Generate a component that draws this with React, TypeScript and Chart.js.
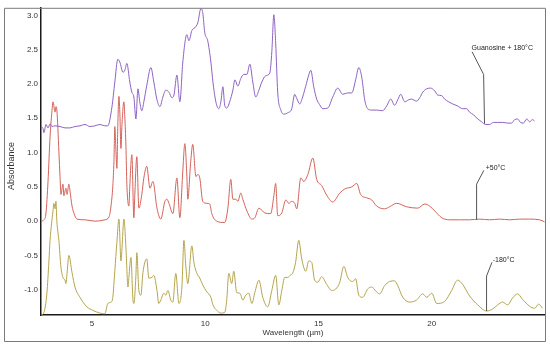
import React, { useEffect, useRef } from "react";
import { Chart, registerables } from "chart.js";

Chart.register(...registerables);

// ---- axis ticks ----
const xTicks = [5, 10, 15, 20];
const yTicks = [-1.0, -0.5, 0.0, 0.5, 1.0, 1.5, 2.0, 2.5, 3.0];

// ---- Guanosine +180°C (purple) ----
const purpleWl = [2.75, 2.84, 2.88, 2.97, 3.06, 3.15, 3.23, 3.37, 3.59, 3.81, 4.03, 4.25, 4.47, 4.69, 4.91, 5.13, 5.35, 5.57, 5.7, 5.88, 6.01, 6.14, 6.23, 6.37, 6.45, 6.54, 6.67, 6.76, 6.85, 6.94, 7.03, 7.11, 7.2, 7.29, 7.42, 7.6, 7.73, 7.87, 8.0, 8.13, 8.26, 8.4, 8.53, 8.62, 8.75, 8.88, 9.01, 9.19, 9.28, 9.41, 9.54, 9.67, 9.81, 9.89, 9.98, 10.11, 10.25, 10.34, 10.47, 10.6, 10.69, 10.78, 10.86, 10.95, 11.08, 11.22, 11.31, 11.44, 11.57, 11.7, 11.84, 11.97, 12.1, 12.23, 12.37, 12.5, 12.67, 12.85, 12.94, 13.03, 13.11, 13.2, 13.34, 13.47, 13.64, 13.82, 13.95, 14.04, 14.17, 14.3, 14.43, 14.57, 14.66, 14.79, 14.92, 15.05, 15.19, 15.41, 15.63, 15.85, 16.07, 16.29, 16.47, 16.64, 16.78, 16.91, 17.04, 17.17, 17.35, 17.57, 17.83, 18.01, 18.19, 18.36, 18.5, 18.63, 18.81, 18.98, 19.11, 19.33, 19.47, 19.6, 19.78, 19.95, 20.13, 20.26, 20.44, 20.57, 20.75, 20.92, 21.14, 21.36, 21.54, 21.67, 21.85, 22.03, 22.2, 22.38, 22.55, 22.73, 22.91, 23.13, 23.35, 23.52, 23.66, 23.79, 23.92, 24.05, 24.19, 24.32, 24.45, 24.54];
const purpleAbs = [1.38, 1.35, 1.29, 1.41, 1.36, 1.42, 1.38, 1.39, 1.38, 1.36, 1.36, 1.38, 1.39, 1.41, 1.38, 1.39, 1.41, 1.39, 1.39, 1.66, 2.03, 2.36, 2.32, 2.17, 2.2, 2.3, 2.03, 1.88, 1.81, 1.49, 1.93, 1.74, 1.61, 1.74, 1.98, 2.24, 2.03, 1.77, 1.67, 1.81, 1.91, 1.88, 1.8, 1.84, 2.13, 1.74, 2.32, 2.72, 2.63, 2.78, 2.82, 2.89, 3.1, 3.04, 2.75, 2.63, 2.32, 2.03, 1.74, 1.64, 1.74, 1.96, 1.69, 1.65, 1.74, 1.91, 2.06, 1.97, 2.08, 2.14, 2.14, 2.29, 2.03, 1.81, 1.91, 2.03, 2.12, 2.16, 2.47, 3.01, 2.6, 1.88, 1.62, 1.56, 1.58, 1.64, 1.85, 1.79, 1.71, 1.81, 1.96, 2.13, 2.2, 1.96, 1.78, 1.7, 1.64, 1.65, 1.81, 1.94, 1.85, 1.87, 1.87, 2.06, 2.24, 2.1, 1.77, 1.64, 1.62, 1.62, 1.61, 1.68, 1.78, 1.69, 1.77, 1.85, 1.74, 1.77, 1.78, 1.75, 1.8, 1.88, 1.93, 1.94, 1.9, 1.84, 1.83, 1.78, 1.74, 1.71, 1.68, 1.64, 1.64, 1.59, 1.55, 1.49, 1.45, 1.41, 1.41, 1.44, 1.44, 1.44, 1.43, 1.43, 1.48, 1.49, 1.44, 1.43, 1.49, 1.45, 1.48, 1.46];

// ---- +50°C (red) ----
const redWl = [2.75, 2.88, 2.97, 3.06, 3.15, 3.23, 3.28, 3.37, 3.41, 3.45, 3.54, 3.59, 3.63, 3.72, 3.76, 3.85, 3.9, 3.98, 4.03, 4.12, 4.21, 4.34, 4.69, 5.13, 5.57, 5.75, 5.84, 5.92, 5.97, 6.01, 6.06, 6.1, 6.14, 6.19, 6.23, 6.28, 6.32, 6.41, 6.45, 6.5, 6.54, 6.63, 6.67, 6.76, 6.85, 6.89, 6.98, 7.07, 7.2, 7.29, 7.42, 7.56, 7.69, 7.87, 8.04, 8.22, 8.31, 8.4, 8.57, 8.75, 8.88, 9.01, 9.1, 9.19, 9.23, 9.36, 9.45, 9.59, 9.67, 9.76, 9.89, 10.07, 10.2, 10.29, 10.51, 10.86, 11.0, 11.13, 11.22, 11.35, 11.44, 11.57, 11.66, 11.84, 12.06, 12.19, 12.37, 12.63, 12.89, 13.03, 13.11, 13.2, 13.38, 13.56, 13.69, 13.82, 13.95, 14.04, 14.22, 14.35, 14.53, 14.75, 14.92, 15.14, 15.36, 15.63, 15.94, 16.16, 16.47, 16.69, 16.86, 17.13, 17.35, 17.57, 17.92, 18.14, 18.45, 18.89, 19.38, 19.69, 19.91, 20.13, 20.44, 20.79, 21.23, 21.67, 22.11, 22.55, 22.99, 23.44, 23.88, 24.32, 24.76, 24.98];
const redAbs = [0.0, 0.02, 0.12, 0.58, 1.23, 1.59, 1.74, 1.59, 1.67, 1.62, 1.01, 0.65, 0.39, 0.54, 0.37, 0.48, 0.39, 0.54, 0.44, 0.22, 0.11, 0.03, 0.02, 0.0, 0.02, 0.06, 0.22, 0.51, 0.87, 1.38, 1.01, 0.77, 1.38, 1.82, 1.59, 1.06, 1.38, 1.74, 1.52, 1.09, 0.54, 0.22, 0.51, 0.97, 0.05, 0.37, 0.94, 0.19, 0.39, 0.63, 0.8, 0.48, 0.58, 0.19, 0.03, 0.29, 0.32, 0.26, 0.11, 0.63, 0.05, 0.73, 1.13, 0.65, 0.32, 0.87, 1.12, 0.65, 0.68, 0.63, 0.29, 0.26, 0.25, 0.11, 0.0, -0.02, 0.19, 0.61, 0.32, 0.32, 0.29, 0.41, 0.32, 0.15, 0.03, 0.05, 0.19, 0.12, 0.11, 0.37, 0.55, 0.08, 0.12, 0.31, 0.26, 0.29, 0.26, 0.18, 0.63, 0.58, 0.68, 0.92, 0.61, 0.52, 0.38, 0.28, 0.41, 0.47, 0.5, 0.55, 0.39, 0.34, 0.31, 0.22, 0.18, 0.21, 0.26, 0.21, 0.19, 0.25, 0.22, 0.15, 0.05, 0.02, 0.02, 0.02, 0.03, 0.02, 0.03, 0.02, 0.03, 0.03, 0.02, -0.01];

// ---- -180°C (olive) ----
const oliveWl = [2.75, 2.88, 3.01, 3.1, 3.15, 3.28, 3.32, 3.37, 3.41, 3.45, 3.54, 3.63, 3.72, 3.81, 3.85, 3.9, 3.98, 4.12, 4.25, 4.47, 4.78, 5.04, 5.35, 5.57, 5.7, 5.84, 5.92, 6.01, 6.1, 6.19, 6.28, 6.32, 6.41, 6.5, 6.59, 6.63, 6.72, 6.81, 6.85, 6.94, 6.98, 7.07, 7.16, 7.25, 7.42, 7.51, 7.65, 7.73, 7.87, 7.95, 8.04, 8.17, 8.26, 8.35, 8.48, 8.57, 8.7, 8.84, 8.97, 9.06, 9.14, 9.23, 9.41, 9.5, 9.63, 9.76, 9.89, 10.07, 10.25, 10.34, 10.51, 10.69, 10.86, 10.95, 11.04, 11.17, 11.26, 11.39, 11.53, 11.66, 11.79, 11.92, 12.06, 12.19, 12.37, 12.54, 12.76, 12.94, 13.11, 13.25, 13.38, 13.51, 13.64, 13.78, 13.86, 13.99, 14.13, 14.26, 14.44, 14.57, 14.7, 14.83, 14.97, 15.14, 15.36, 15.58, 15.76, 15.94, 16.12, 16.29, 16.51, 16.64, 16.78, 16.95, 17.17, 17.35, 17.53, 17.7, 17.92, 18.14, 18.36, 18.5, 18.72, 19.03, 19.33, 19.6, 19.78, 20.0, 20.22, 20.57, 20.88, 21.14, 21.36, 21.67, 22.03, 22.42, 22.69, 22.91, 23.13, 23.35, 23.57, 23.79, 24.01, 24.32, 24.54, 24.72, 24.89];
const oliveAbs = [-1.37, -1.33, -1.05, -0.58, -0.28, 0.15, 0.26, 0.18, 0.29, 0.0, -0.28, -0.67, -0.82, -0.86, -0.91, -0.76, -0.5, -0.75, -0.96, -1.11, -1.25, -1.3, -1.34, -1.35, -1.2, -1.18, -1.11, -0.72, -0.31, 0.03, -0.58, -0.43, 0.03, -0.39, -0.96, -0.82, -0.53, -1.15, -1.2, -0.79, -0.46, -1.01, -1.08, -0.75, -0.55, -0.83, -0.82, -0.79, -1.01, -1.2, -1.15, -1.05, -1.08, -1.01, -1.15, -1.18, -0.76, -1.2, -0.96, -0.28, -0.64, -0.91, -0.36, -0.6, -0.76, -0.83, -0.93, -1.03, -1.11, -1.22, -1.3, -1.34, -1.33, -1.15, -0.76, -0.91, -0.73, -1.04, -1.05, -1.15, -1.08, -1.05, -1.2, -1.04, -0.86, -1.11, -1.25, -1.01, -0.79, -1.22, -1.01, -0.82, -0.82, -0.78, -0.76, -0.6, -0.28, -0.55, -0.73, -0.58, -0.6, -0.86, -0.89, -0.81, -0.92, -1.01, -0.99, -0.89, -0.66, -0.82, -0.88, -0.84, -1.08, -1.11, -0.99, -0.96, -1.02, -1.06, -0.94, -0.88, -0.87, -0.94, -1.11, -1.18, -1.15, -1.06, -1.11, -1.05, -1.2, -1.17, -1.01, -0.86, -0.92, -1.09, -1.22, -1.31, -1.28, -1.22, -1.18, -1.22, -1.12, -1.06, -1.14, -1.24, -1.27, -1.21, -1.27];

// ---- curve labels (data units) ----
const labelTexts = ["Guanosine + 180°C", "+50°C", "-180°C"];
const labelTextPos = [[21.76, 2.53], [22.38, 0.78], [22.69, -0.56]];
const labelLeaders = [
  [[21.78, 2.47], [22.29, 2.14], [22.33, 1.42]],
  [[22.3, 0.74], [21.98, 0.54], [21.98, 0.02]],
  [[22.66, -0.6], [22.42, -0.8], [22.42, -1.31]],
];

const FONT = "'Liberation Sans', Arial, sans-serif";
const TEXT_COLOR = "#333333";

const toPoints = (xs: number[], ys: number[]) => xs.map((x, i) => ({ x, y: ys[i] }));

const decorPlugin = {
  id: "decor",
  afterDraw(chart: any) {
    const ctx = chart.ctx as CanvasRenderingContext2D;
    const { right, top } = chart.chartArea;
    const xs = chart.scales.x;
    const ys = chart.scales.y;
    ctx.save();
    // outer frame
    ctx.strokeStyle = "#7a7a7a";
    ctx.lineWidth = 1;
    ctx.beginPath();
    ctx.moveTo(4.5, top + 0.5);
    ctx.lineTo(right + 0.5, top + 0.5);
    ctx.lineTo(right + 0.5, 341.5);
    ctx.lineTo(4.5, 341.5);
    ctx.closePath();
    ctx.stroke();
    // y axis title
    ctx.fillStyle = TEXT_COLOR;
    ctx.font = `9px ${FONT}`;
    ctx.textAlign = "center";
    ctx.textBaseline = "middle";
    ctx.translate(11.5, 166);
    ctx.rotate(-Math.PI / 2);
    ctx.fillText("Absorbance", 0, 0);
    ctx.setTransform(1, 0, 0, 1, 0, 0);
    // leaders and labels
    ctx.strokeStyle = "#555555";
    ctx.lineWidth = 1;
    labelLeaders.forEach((pts) => {
      ctx.beginPath();
      pts.forEach(([wx, wy], i) => {
        const px = xs.getPixelForValue(wx);
        const py = ys.getPixelForValue(wy);
        if (i === 0) ctx.moveTo(px, py);
        else ctx.lineTo(px, py);
      });
      ctx.stroke();
    });
    ctx.fillStyle = "#222222";
    ctx.font = `7px ${FONT}`;
    ctx.textAlign = "left";
    ctx.textBaseline = "middle";
    labelTexts.forEach((t, i) => {
      const [wx, wy] = labelTextPos[i];
      ctx.fillText(t, xs.getPixelForValue(wx), ys.getPixelForValue(wy));
    });
    ctx.restore();
  },
};

export default function App() {
  const canvasRef = useRef<HTMLCanvasElement | null>(null);

  useEffect(() => {
    if (!canvasRef.current) return;
    const lineStyle = {
      pointRadius: 0,
      borderWidth: 1,
      fill: false,
      cubicInterpolationMode: "monotone" as const,
    };
    const chart = new Chart(canvasRef.current, {
      type: "line",
      data: {
        datasets: [
          { label: "Guanosine + 180°C", data: toPoints(purpleWl, purpleAbs), borderColor: "#8d62c2", ...lineStyle },
          { label: "+50°C", data: toPoints(redWl, redAbs), borderColor: "#d4625a", ...lineStyle },
          { label: "-180°C", data: toPoints(oliveWl, oliveAbs), borderColor: "#b5a44c", ...lineStyle },
        ],
      },
      options: {
        animation: false,
        responsive: false,
        devicePixelRatio: 1,
        layout: { padding: { left: 0, right: 5, top: 5, bottom: 0 } },
        plugins: { legend: { display: false }, tooltip: { enabled: false } },
        scales: {
          x: {
            type: "linear",
            min: 2.75,
            max: 25,
            afterBuildTicks: (s: any) => {
              s.ticks = xTicks.map((v) => ({ value: v }));
            },
            afterFit: (s: any) => {
              s.height = 32;
            },
            grid: { display: false, drawTicks: false },
            border: { display: true, color: "#1a1a1a", width: 1.5 },
            ticks: { padding: 4, color: TEXT_COLOR, font: { family: FONT, size: 8 }, maxRotation: 0, autoSkip: false },
            title: { display: true, text: "Wavelength (µm)", color: TEXT_COLOR, font: { family: FONT, size: 8 }, padding: { top: 0, bottom: 9 } },
          },
          y: {
            type: "linear",
            min: -1.368,
            max: 3.111,
            afterBuildTicks: (s: any) => {
              s.ticks = yTicks.map((v) => ({ value: v }));
            },
            afterFit: (s: any) => {
              s.width = 41;
            },
            grid: { display: false, drawTicks: false },
            border: { display: true, color: "#1a1a1a", width: 1.5 },
            ticks: {
              padding: 3,
              color: TEXT_COLOR,
              font: { family: FONT, size: 8 },
              autoSkip: false,
              callback: (v: any) => Number(v).toFixed(1),
            },
          },
        },
      },
      plugins: [decorPlugin],
    });
    return () => chart.destroy();
  }, []);

  return (
    <div style={{ position: "absolute", left: 0, top: 0, width: 550, height: 347, background: "#ffffff" }}>
      <canvas ref={canvasRef} width={550} height={347} style={{ display: "block" }} />
    </div>
  );
}
